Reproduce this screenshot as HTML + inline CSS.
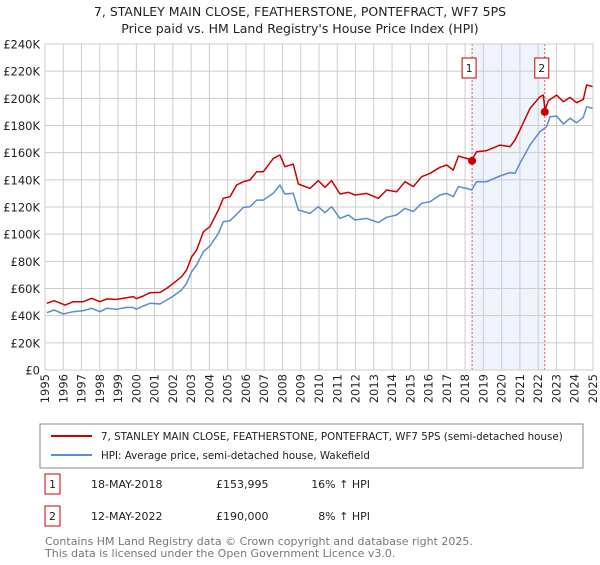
<!DOCTYPE html>
<html><head><meta charset="utf-8"><style>
body{margin:0;background:#fff;font-family:"Liberation Sans","DejaVu Sans",sans-serif}
svg text{font-family:"DejaVu Sans","Liberation Sans",sans-serif}
</style></head><body>
<svg id="c" width="600" height="560" xmlns="http://www.w3.org/2000/svg">
<text x="300" y="16" text-anchor="middle" font-size="12.5" fill="#222">7, STANLEY MAIN CLOSE, FEATHERSTONE, PONTEFRACT, WF7 5PS</text>
<text x="300" y="33" text-anchor="middle" font-size="12.5" fill="#222">Price paid vs. HM Land Registry's House Price Index (HPI)</text>
<g id="plot"></g>
<rect x="40" y="424" width="543" height="44" fill="#fff" stroke="#888"/>
<line x1="51" y1="436" x2="92" y2="436" stroke="#cc0000" stroke-width="2"/>
<text x="101" y="440" font-size="10.3" fill="#222">7, STANLEY MAIN CLOSE, FEATHERSTONE, PONTEFRACT, WF7 5PS (semi-detached house)</text>
<line x1="51" y1="455" x2="92" y2="455" stroke="#5b8bd0" stroke-width="2"/>
<text x="101" y="459" font-size="10.3" fill="#222">HPI: Average price, semi-detached house, Wakefield</text>
<g>
<rect x="45" y="474" width="15" height="20" fill="#fff" stroke="#cc0000"/>
<text x="52.5" y="488" text-anchor="middle" font-size="11" fill="#222">1</text>
<text x="91" y="488" font-size="11" fill="#222">18-MAY-2018</text>
<text x="216" y="488" font-size="11" fill="#222">£153,995</text>
<text x="370" y="488" text-anchor="end" font-size="11" fill="#222">16% ↑ HPI</text>
</g>
<g>
<rect x="45" y="506" width="15" height="20" fill="#fff" stroke="#cc0000"/>
<text x="52.5" y="520" text-anchor="middle" font-size="11" fill="#222">2</text>
<text x="91" y="520" font-size="11" fill="#222">12-MAY-2022</text>
<text x="216" y="520" font-size="11" fill="#222">£190,000</text>
<text x="370" y="520" text-anchor="end" font-size="11" fill="#222">8% ↑ HPI</text>
</g>
<text x="45" y="545" font-size="11" fill="#777">Contains HM Land Registry data © Crown copyright and database right 2025.</text>
<text x="45" y="557" font-size="11" fill="#777">This data is licensed under the Open Government Licence v3.0.</text>
</svg>
<script>
const yTicks=[0,20,40,60,80,100,120,140,160,180,200,220,240];
const yTickLabels=["£0","£20K","£40K","£60K","£80K","£100K","£120K","£140K","£160K","£180K","£200K","£220K","£240K"];
const xTicks=[1995,1996,1997,1998,1999,2000,2001,2002,2003,2004,2005,2006,2007,2008,2009,2010,2011,2012,2013,2014,2015,2016,2017,2018,2019,2020,2021,2022,2023,2024,2025];
const hpiYears=[1995.1,1995.5,1996.0,1996.55,1997.1,1997.55,1998.0,1998.38,1998.92,1999.47,1999.84,2000.0,2000.38,2000.75,2001.3,2001.66,2002.03,2002.48,2002.75,2003.03,2003.3,2003.67,2004.03,2004.49,2004.76,2005.13,2005.49,2005.86,2006.22,2006.59,2006.95,2007.5,2007.86,2008.14,2008.59,2008.87,2009.51,2009.96,2010.33,2010.69,2011.15,2011.61,2011.97,2012.61,2013.25,2013.7,2014.25,2014.71,2015.16,2015.62,2016.08,2016.62,2016.99,2017.35,2017.63,2018.08,2018.36,2018.63,2019.18,2019.91,2020.46,2020.73,2021.0,2021.55,2022.1,2022.46,2022.65,2023.01,2023.38,2023.74,2024.1,2024.47,2024.65,2025.0];
const hpiValues=[42.2,44.2,41.2,42.9,43.7,45.4,42.9,45.4,44.7,46.1,46,44.7,47.1,49.1,48.6,51.5,54.5,58.9,63.8,72.4,77.3,87.1,91.3,100.6,109.2,109.9,114.6,119.7,120.2,125.1,125.1,130.1,136.2,129.6,130.1,117.8,115.3,120.2,115.8,120.2,111.6,114.1,110.4,111.6,108.5,112.4,114.1,119,116.6,122.7,123.9,128.8,130,127.6,135,133.7,132.5,138.6,138.6,142.8,145.3,144.8,152.1,165.6,175.5,179.1,186.5,187,181.1,185.3,182,186,193.8,192.6];
const propYears=[1995.1,1995.5,1996.1,1996.55,1997.1,1997.55,1998.0,1998.38,1998.92,1999.47,1999.84,2000.0,2000.38,2000.75,2001.3,2001.66,2002.03,2002.48,2002.75,2003.03,2003.3,2003.67,2004.03,2004.49,2004.76,2005.13,2005.49,2005.86,2006.22,2006.59,2006.95,2007.5,2007.86,2008.14,2008.59,2008.87,2009.51,2009.96,2010.33,2010.69,2011.15,2011.61,2011.97,2012.61,2013.25,2013.7,2014.25,2014.71,2015.16,2015.62,2016.08,2016.62,2016.99,2017.35,2017.63,2018.08,2018.36,2018.63,2019.18,2019.91,2020.46,2020.73,2021.0,2021.55,2022.1,2022.28,2022.37,2022.56,2023.01,2023.38,2023.74,2024.1,2024.47,2024.65,2025.0];
const propValues=[49.1,51,47.8,50.3,50.3,52.8,50.3,52.3,52,53.2,54,52.5,54.5,56.9,57.1,60.1,63.8,68.7,73.6,83.4,88.3,101.8,105.5,117.8,126.4,127.6,136.2,138.6,139.9,146,146,155.8,158.3,149.7,151.6,136.9,133.7,139.4,134.5,139.4,129.6,130.8,128.8,130,126.4,132.5,131.2,138.6,135,142.3,144.8,149.2,150.9,147.2,157.5,155.8,154.6,160.7,161.5,165.6,164.4,169.3,176.7,192.6,201.2,202.4,191.4,198.3,202.4,197.5,200.7,196.8,199.2,209.8,208.6];
const saleYears=[2018.38,2022.36];
const saleValues=[153.995,190];
const saleLabels=["1","2"];

const L=45,R=593,T=44,B=370;
const X=y=>L+(y-1995)/(2025-1995)*(R-L);
const Y=v=>B-v/240*(B-T);
const NS="http://www.w3.org/2000/svg";
const g=document.getElementById('plot');
function mk(tag,attrs,parent){const e=document.createElementNS(NS,tag);for(const k in attrs)e.setAttribute(k,attrs[k]);(parent||g).appendChild(e);return e;}

const shade=mk('rect',{x:X(saleYears[0]),y:T,width:X(saleYears[1])-X(saleYears[0]),height:B-T,fill:'#eef3fc'});



yTicks.forEach((v,i)=>{
  const ln=mk('line',{x1:L,x2:R,y1:Y(v),y2:Y(v),stroke:'#cccccc','stroke-width':1});
  
  
  const t=mk('text',{x:L-5,y:Y(v)+4.5,'text-anchor':'end','font-size':11.5,fill:'#222'});
  t.textContent=yTickLabels[i];
  
  
});
xTicks.forEach(yr=>{
  const ln=mk('line',{x1:X(yr),x2:X(yr),y1:T,y2:B,stroke:'#cccccc','stroke-width':1});
  
  
  const tx=X(yr)+4, ty=B+4;
  const t=mk('text',{x:tx,y:ty,'text-anchor':'end','font-size':11.5,fill:'#222',transform:'rotate(-90 '+tx+' '+ty+')'});
  t.textContent=yr;
  
  
});

saleYears.forEach((yr,i)=>{
  const ln=mk('line',{x1:X(yr),x2:X(yr),y1:T,y2:B,stroke:'#ee5555','stroke-width':1,'stroke-dasharray':'2,2'});
  
  
});

function line(xs,vs,color,name){
  const d=xs.map((x,i)=>(i?'L':'M')+X(x).toFixed(1)+','+Y(vs[i]).toFixed(1)).join('');
  const p=mk('path',{d:d,fill:'none',stroke:color,'stroke-width':1.5,'stroke-linejoin':'round'});
  
  
}
line(hpiYears,hpiValues,'#5b8bd0','hpi-line');
line(propYears,propValues,'#cc0000','property-price-line');

saleYears.forEach((yr,i)=>{
  const c=mk('circle',{cx:X(yr),cy:Y(saleValues[i]),r:4,fill:'#cc0000'});
  
  
  const bx=mk('rect',{x:X(yr)-10,y:58,width:14,height:20,fill:'#fff',stroke:'#cc0000'});
  
  
  const t=mk('text',{x:X(yr)-3,y:72,'text-anchor':'middle','font-size':11,fill:'#222'});
  t.textContent=saleLabels[i];
  
  
});
const ax=mk('rect',{x:L,y:T,width:R-L,height:B-T,fill:'none',stroke:'#cccccc'});


</script>
</body></html>
